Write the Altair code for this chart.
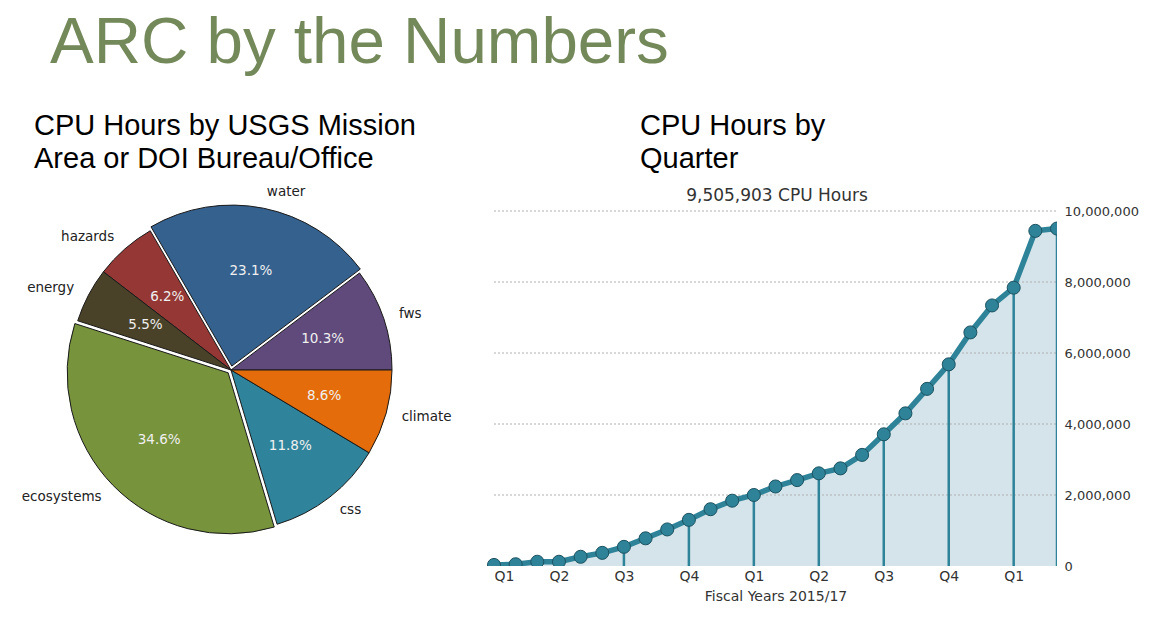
import json
import math
import altair as alt
import pandas as pd

# ---------------- data ----------------
slide_title = "ARC by the Numbers"
pie_title = "CPU Hours by USGS Mission\nArea or DOI Bureau/Office"
line_title = "CPU Hours by\nQuarter"
total_label = "9,505,903 CPU Hours"
x_axis_title = "Fiscal Years 2015/17"

categories = ["fws", "water", "hazards", "energy", "ecosystems", "css", "climate"]
shares = [10.3, 23.1, 6.2, 5.5, 34.6, 11.8, 8.6]
slice_colors = ["#5f4a7b", "#34618e", "#953735", "#4a4228", "#77933c", "#2f849c", "#e46c0a"]

months = list(range(27))
cpu_hours_millions = [0.03, 0.05, 0.12, 0.12, 0.26, 0.37, 0.54, 0.78, 1.03, 1.30,
                      1.60, 1.84, 2.00, 2.24, 2.42, 2.61, 2.75, 3.13, 3.71, 4.30,
                      4.99, 5.68, 6.58, 7.34, 7.84, 9.44, 9.505903]
quarter_labels = ["Q1", "Q2", "Q3", "Q4"]
x_tick_months = [0, 3, 6, 9, 12, 15, 18, 21, 24]
y_tick_values = [0, 2000000, 4000000, 6000000, 8000000, 10000000]
grid_values = [2000000, 4000000, 6000000, 8000000, 10000000]

pie_df = pd.DataFrame({"cat": categories, "share": shares, "order": list(range(len(categories)))})
line_df = pd.DataFrame({"month": months, "hours": [v * 1e6 for v in cpu_hours_millions]})
grid_df = pd.DataFrame({"hours": grid_values})

TOTAL = sum(shares)

# ---------------- layout ----------------
W, H = 1049, 558
FONT = "DejaVu Sans"
TEAL = "#2e8399"

# ---------------- pie ----------------
R = 161
CX, CY = 223, 362
theta_scale = alt.Scale(domain=[0, TOTAL], range=[2.5 * math.pi, 0.5 * math.pi])
color_scale = alt.Scale(domain=categories, range=slice_colors)

base_pie = (
    alt.Chart(pie_df)
    .transform_window(cum="sum(share)", sort=[alt.SortField("order")])
    .transform_calculate(
        start="datum.cum - datum.share",
        mid="datum.cum - datum.share / 2",
        right=f"cos(2 * PI * (datum.cum - datum.share / 2) / {TOTAL}) >= 0",
        pct="format(datum.share, '.1f') + '%'",
    )
)


def pie_group(filt, cx, cy):
    b = base_pie.transform_filter(filt)
    th_mid = alt.Theta("mid:Q", scale=theta_scale, stack=False)
    arc = b.mark_arc(radius=R, stroke="#1a1a1a", strokeWidth=1).encode(
        theta=alt.Theta("start:Q", scale=theta_scale, stack=False),
        theta2="cum:Q",
        color=alt.Color("cat:N", scale=color_scale, legend=None),
        x=alt.value(cx), y=alt.value(cy),
    )
    pct = b.mark_text(radius=0.6 * R, font=FONT, fontSize=13.5, color="#f0f0f0",
                      align="center", baseline="middle").encode(
        theta=th_mid, text="pct:N", x=alt.value(cx), y=alt.value(cy))
    right = b.transform_filter("datum.right").mark_text(
        radius=1.1 * R, font=FONT, fontSize=13.5, color="#222222",
        align="left", baseline="middle").encode(
        theta=th_mid, text="cat:N", x=alt.value(cx), y=alt.value(cy))
    left = b.transform_filter("!datum.right").mark_text(
        radius=1.1 * R, font=FONT, fontSize=13.5, color="#222222",
        align="right", baseline="middle").encode(
        theta=th_mid, text="cat:N", x=alt.value(cx), y=alt.value(cy))
    return [arc, pct, right, left]


def explode(cat_name, dist=4):
    i = categories.index(cat_name)
    mid = (sum(shares[:i]) + shares[i] / 2) / TOTAL * 2 * math.pi
    return CX + dist * math.cos(mid), CY - dist * math.sin(mid)


wx, wy = explode("water")
ex, ey = explode("ecosystems")
pie_layers = (
    pie_group("datum.cat != 'water' && datum.cat != 'ecosystems'", CX, CY)
    + pie_group("datum.cat == 'water'", wx, wy)
    + pie_group("datum.cat == 'ecosystems'", ex, ey)
)

# ---------------- line chart ----------------
xscale = alt.Scale(domain=[0, 26], range=[486, 1049], nice=False, zero=False)
yscale = alt.Scale(domain=[0, 10000000], range=[558, 203], nice=False)

x_axis = alt.Axis(
    values=x_tick_months,
    labelExpr=f"{json.dumps(quarter_labels)}[(datum.value / 3) % 4]",
    title=x_axis_title, domain=False, ticks=False, grid=False,
    labelFont=FONT, labelFontSize=14, labelColor="#333333", labelPadding=3,
    titleFont=FONT, titleFontSize=14, titleFontWeight="normal", titleColor="#333333",
    titlePadding=6,
)
y_axis = alt.Axis(
    orient="right", values=y_tick_values, format=",d", title="",
    domain=False, ticks=False, grid=False,
    labelFont=FONT, labelFontSize=13, labelColor="#333333", labelPadding=7,
)
x_enc = alt.X("month:Q", scale=xscale, axis=x_axis)
y_enc = alt.Y("hours:Q", scale=yscale, axis=y_axis)

area = alt.Chart(line_df).mark_area(color="#d4e4ea", clip=True).encode(x=x_enc, y=y_enc)
grid = alt.Chart(grid_df).mark_rule(color="#b0b0b0", strokeWidth=1, strokeDash=[2, 2]).encode(
    y=y_enc, x=alt.datum(0), x2=alt.datum(26))
stems = (
    alt.Chart(line_df)
    .transform_filter("datum.month % 3 == 0 || datum.month == 26")
    .mark_rule(color=TEAL, strokeWidth=2.5, clip=True)
    .encode(x=x_enc, y=y_enc, y2=alt.datum(0))
)
line = alt.Chart(line_df).mark_line(color=TEAL, strokeWidth=5.5, clip=True).encode(x=x_enc, y=y_enc)
points = alt.Chart(line_df).mark_circle(size=170, color=TEAL, opacity=1, stroke="#1c5260",
                                         strokeWidth=1, clip=True).encode(x=x_enc, y=y_enc)

# ---------------- texts ----------------
title_df = pd.DataFrame({"t": [slide_title]})
title_txt = alt.Chart(title_df).mark_text(
    font="Liberation Sans", fontSize=65.5, color="#74895a",
    align="left", baseline="alphabetic").encode(text="t:N", x=alt.value(42), y=alt.value(55))

pie_title_txt = alt.Chart(pd.DataFrame({"t": [pie_title]})).mark_text(
    font="Liberation Sans", fontSize=29, color="#000000", align="left",
    baseline="alphabetic", lineBreak="\n", lineHeight=33).encode(
    text="t:N", x=alt.value(26), y=alt.value(127))

line_title_txt = alt.Chart(pd.DataFrame({"t": [line_title]})).mark_text(
    font="Liberation Sans", fontSize=29, color="#000000", align="left",
    baseline="alphabetic", lineBreak="\n", lineHeight=33).encode(
    text="t:N", x=alt.value(632), y=alt.value(127))

total_txt = alt.Chart(pd.DataFrame({"t": [total_label]})).mark_text(
    font=FONT, fontSize=17, color="#333333", align="center", baseline="middle").encode(
    text="t:N", x=alt.value(769), y=alt.value(188))

chart = (
    alt.layer(area, grid, stems, line, points, *pie_layers,
              title_txt, pie_title_txt, line_title_txt, total_txt)
    .properties(width=W, height=H, autosize=alt.AutoSizeParams(type="none"),
                padding={"left": 0, "top": 0, "right": 85, "bottom": 44},
                background="white")
    .configure_view(strokeWidth=0)
)

chart.save("out.html", embed_options={"renderer": "svg", "actions": False})
